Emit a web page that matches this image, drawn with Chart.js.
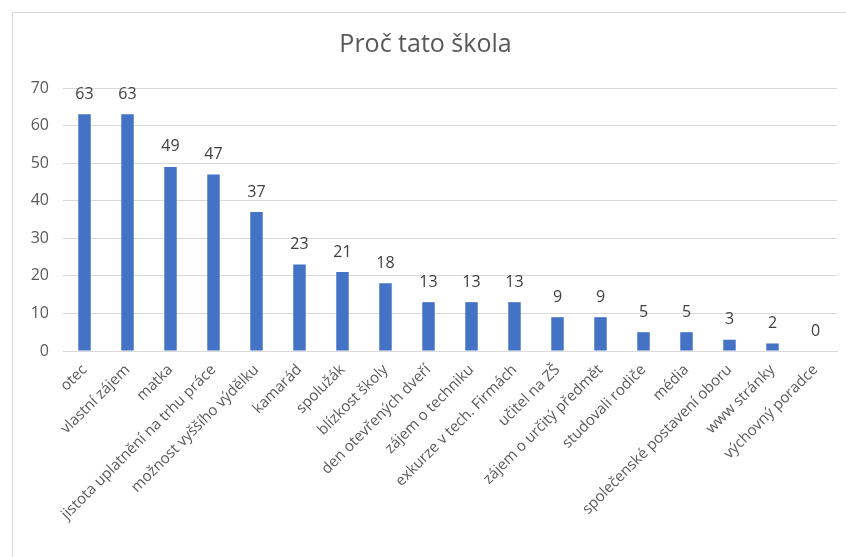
<!DOCTYPE html>
<html>
<head>
<meta charset="utf-8">
<script src="https://cdn.jsdelivr.net/npm/chart.js@4.4.1/dist/chart.umd.min.js"></script>
<style>
  html, body { margin: 0; padding: 0; background: #fff; }
  #wrap { position: absolute; left: 0; top: 0; width: 846px; height: 557px; }
  #frame { position: absolute; left: 12px; top: 12px; width: 860px; height: 600px; border: 1px solid #d9d9d9; box-sizing: border-box; }
</style>
</head>
<body>
<div id="wrap">
  <div id="frame"></div>
  <canvas id="c" width="846" height="557" style="position:absolute;left:0;top:0;"></canvas>
</div>
<script>
const title = "Proč tato škola";
const categories = ["otec", "vlastní zájem", "matka", "jistota uplatnění na trhu práce", "možnost vyššího výdělku", "kamarád", "spolužák", "blízkost školy", "den otevřených dveří", "zájem o techniku", "exkurze v tech. Firmách", "učitel na ZŠ", "zájem o určitý předmět", "studovali rodiče", "média", "společenské postavení oboru", "www stránky", "výchovný poradce"];
const values = [63, 63, 49, 47, 37, 23, 21, 18, 13, 13, 13, 9, 9, 5, 5, 3, 2, 0];
const yTicks = [0, 10, 20, 30, 40, 50, 60, 70];

const valueLabels = {
  id: 'valueLabels',
  afterDatasetsDraw(chart) {
    const ctx = chart.ctx;
    const meta = chart.getDatasetMeta(0);
    ctx.save();
    ctx.font = '16px "Open Sans", sans-serif';
    ctx.fillStyle = '#404040';
    ctx.textAlign = 'center';
    ctx.textBaseline = 'bottom';
    meta.data.forEach((bar, i) => {
      ctx.fillText(String(values[i]), bar.x, bar.y - 12);
    });
    ctx.restore();
  }
};

new Chart(document.getElementById('c'), {
  type: 'bar',
  data: {
    labels: categories,
    datasets: [{
      data: values,
      backgroundColor: '#4472C4',
      borderWidth: 0,
      barPercentage: 0.58,
      categoryPercentage: 0.5
    }]
  },
  options: {
    responsive: false,
    animation: false,
    layout: { padding: { left: 14, right: 9, top: 0, bottom: 0 } },
    plugins: {
      legend: { display: false },
      tooltip: { enabled: false },
      title: {
        display: true,
        text: title,
        color: '#595959',
        font: { family: '"Open Sans", sans-serif', size: 25, weight: 'normal' },
        padding: { top: 30, bottom: 28 }
      }
    },
    scales: {
      x: {
        grid: { display: false, drawTicks: false },
        border: { display: true, color: '#d9d9d9', width: 1 },
        ticks: {
          color: '#595959',
          font: { family: '"Open Sans", sans-serif', size: 15 },
          minRotation: 45,
          maxRotation: 45,
          autoSkip: false,
          padding: 10
        },
        afterFit(scale) { scale.height = 206; }
      },
      y: {
        min: 0,
        max: 70,
        afterBuildTicks(scale) { scale.ticks = yTicks.map(v => ({ value: v })); },
        grid: { color: '#d9d9d9', drawTicks: false },
        border: { display: false },
        ticks: {
          color: '#595959',
          font: { family: '"Open Sans", sans-serif', size: 16 },
          padding: 14
        },
        afterFit(scale) { scale.width = 49; }
      }
    }
  },
  plugins: [valueLabels]
});
</script>
</body>
</html>
